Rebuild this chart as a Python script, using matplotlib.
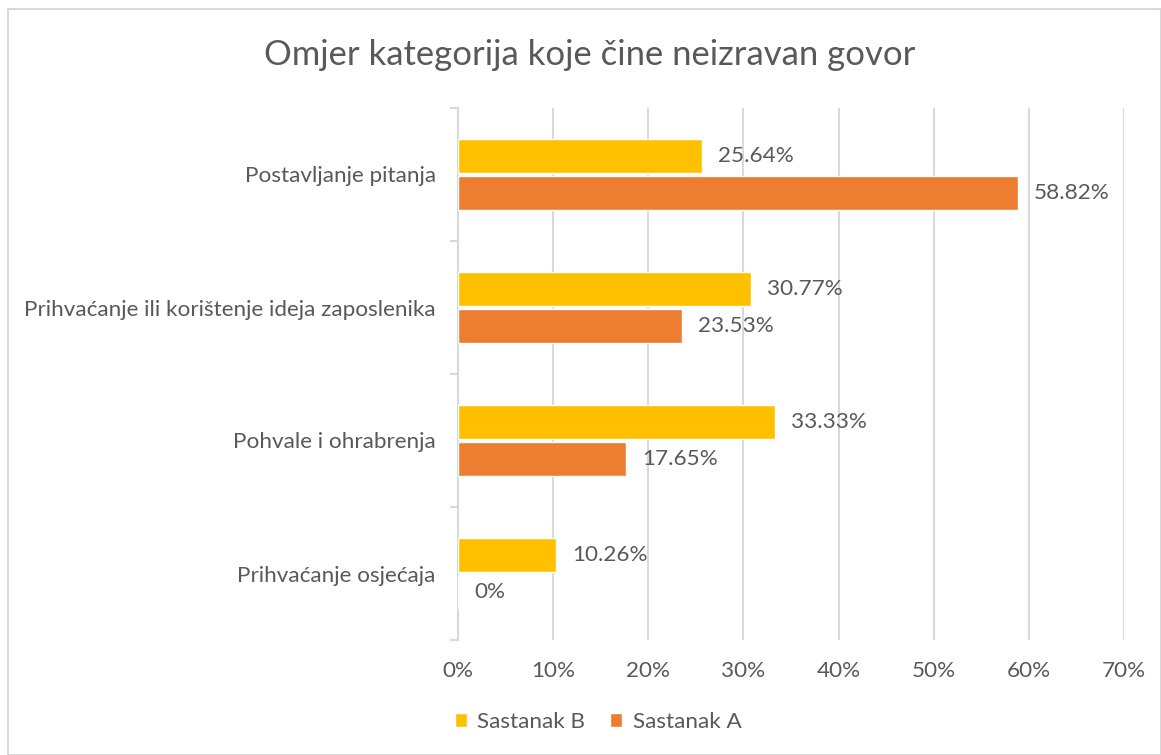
import numpy as np
import matplotlib.pyplot as plt
from matplotlib.patches import Rectangle

plt.rcParams['font.family'] = ['Lato', 'DejaVu Sans']

# Data
categories = ['Postavljanje pitanja',
              'Prihvaćanje ili korištenje ideja zaposlenika',
              'Pohvale i ohrabrenja',
              'Prihvaćanje osjećaja']
sastanak_b = [25.64, 30.77, 33.33, 10.26]
sastanak_a = [58.82, 23.53, 17.65, 0]
labels_b = ['25.64%', '30.77%', '33.33%', '10.26%']
labels_a = ['58.82%', '23.53%', '17.65%', '0%']
xticks = [0, 10, 20, 30, 40, 50, 60, 70]

txt = '#595959'
yellow = '#FFC000'
orange = '#ED7D31'
grid = '#D9D9D9'
fs = 16.2

fig = plt.figure(figsize=(11.61, 7.55), dpi=100)
fig.patches.append(Rectangle((8 / 1161, 0.0), 1 - 8 / 1161, 1 - 9 / 755, transform=fig.transFigure,
                             fill=False, edgecolor='#D9D9D9', linewidth=1.5))
ax = fig.add_axes([458 / 1161, 1 - 640 / 755, (1124 - 458) / 1161, (640 - 108) / 755])

y = np.arange(len(categories))
h = 0.256
off = 0.139
ax.barh(y - off, sastanak_b, height=h, color=yellow, edgecolor='white', linewidth=1, label='Sastanak B', zorder=3)
ax.barh(y + off, sastanak_a, height=h, color=orange, edgecolor='white', linewidth=1, label='Sastanak A', zorder=3)

for i in range(len(categories)):
    ax.text(sastanak_b[i] + 1.7, y[i] - off, labels_b[i], va='center', ha='left', fontsize=fs, color=txt)
    ax.text(sastanak_a[i] + 1.7, y[i] + off, labels_a[i], va='center', ha='left', fontsize=fs, color=txt)

ax.set_xlim(0, 70)
ax.set_ylim(3.5, -0.5)
ax.set_xticks(xticks)
ax.set_xticklabels([f'{v}%' for v in xticks], fontsize=fs, color=txt)
ax.set_yticks(y)
ax.set_yticklabels(categories, fontsize=fs, color=txt)
ax.set_yticks(np.arange(-0.5, 4, 1), minor=True)
ax.tick_params(axis='y', which='major', length=0, pad=16)
ax.tick_params(axis='y', which='minor', length=6, color=grid, width=1.5)
ax.tick_params(axis='x', length=0, pad=15)
ax.xaxis.grid(True, color=grid, linewidth=1.5, zorder=0)
for s in ['top', 'right', 'bottom']:
    ax.spines[s].set_visible(False)
ax.spines['left'].set_color(grid)
ax.spines['left'].set_linewidth(1.5)

fig.text(590 / 1161, 1 - 55 / 755, 'Omjer kategorija koje čine neizravan govor', ha='center', va='center',
         fontsize=24.9, color=txt)

leg = fig.legend(loc='center', bbox_to_anchor=(598 / 1161, 1 - 722 / 755), ncol=2, frameon=False,
                 fontsize=fs, handlelength=0.55, handleheight=0.55, handletextpad=0.45, columnspacing=1.1)
for t in leg.get_texts():
    t.set_color(txt)

fig.savefig('out.png', dpi=100)
